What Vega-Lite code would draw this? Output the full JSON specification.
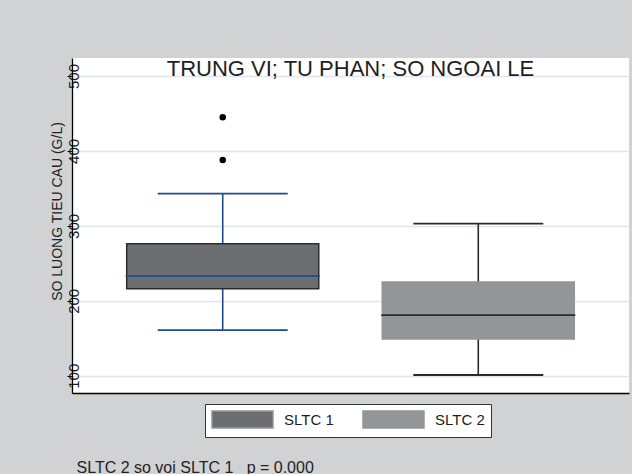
{
  "$schema": "https://vega.github.io/schema/vega-lite/v6.json",
  "width": 557,
  "height": 335,
  "autosize": "none",
  "padding": {"left": 72, "top": 58, "right": 3, "bottom": 81},
  "background": "#d1d2d4",
  "config": {"view": {"fill": "white", "stroke": null}, "font": "Liberation Sans"},
  "title": {"text": "TRUNG VI; TU PHAN; SO NGOAI LE", "fontSize": 22, "fontWeight": "normal", "color": "#1e1e1e", "anchor": "middle", "frame": "group", "baseline": "alphabetic", "offset": -19, "dy": 21},
  "datasets": {
    "boxes": [
      {"group": "SLTC 1", "lower": 161, "q1": 216, "median": 233, "q3": 276, "upper": 343},
      {"group": "SLTC 2", "lower": 101, "q1": 149, "median": 181, "q3": 225, "upper": 303}
    ],
    "outliers": [
      {"group": "SLTC 1", "value": 445},
      {"group": "SLTC 1", "value": 388}
    ]
  },
  "encoding": {
    "x": {
      "field": "group", "type": "nominal",
      "scale": {"domain": ["SLTC 1", "SLTC 2"], "paddingInner": 0.2485, "paddingOuter": 0.214},
      "axis": {"title": "SLTC 2 so voi SLTC 1\u00a0\u00a0\u00a0p = 0.000", "labels": false, "ticks": false, "domain": true, "domainColor": "#000000", "domainWidth": 1.5, "grid": false, "titleX": 4, "titleY": 79, "titleAlign": "left", "titleBaseline": "alphabetic", "titleFontSize": 16, "titleFontWeight": "normal", "titleColor": "#222222"}
    }
  },
  "layer": [
    {
      "data": {"name": "boxes"},
      "mark": {"type": "rule", "strokeWidth": 1.6},
      "encoding": {
        "y": {"field": "lower", "type": "quantitative", "title": "SO LUONG TIEU CAU (G/L)",
          "scale": {"domain": [77, 524], "nice": false, "zero": false},
          "axis": {"values": [100, 200, 300, 400, 500], "grid": true, "gridColor": "#dfe4ee", "gridWidth": 1.5, "domainColor": "#000000", "domainWidth": 1.3, "tickColor": "#000000", "tickSize": 5, "tickWidth": 1, "labelAngle": 270, "labelAlign": "center", "labelBaseline": "middle", "labelPadding": -6, "labelFontSize": 15, "labelColor": "#222222", "labelFlush": false, "labelOverlap": false, "titleFontSize": 14, "titleFontWeight": "normal", "titleColor": "#222222", "titleAngle": 270, "titleX": -15, "titleY": 153, "titleAlign": "center", "titleBaseline": "middle"}},
        "y2": {"field": "upper"},
        "color": {"condition": {"test": "datum.group === 'SLTC 1'", "value": "#1f4a8c"}, "value": "#2a2a2a"}
      }
    },
    {
      "data": {"name": "boxes"},
      "mark": {"type": "tick", "size": 130, "thickness": 1.8, "opacity": 1},
      "encoding": {
        "y": {"field": "upper", "type": "quantitative", "title": "SO LUONG TIEU CAU (G/L)"},
        "color": {"condition": {"test": "datum.group === 'SLTC 1'", "value": "#1f4a8c"}, "value": "#2a2a2a"}
      }
    },
    {
      "data": {"name": "boxes"},
      "mark": {"type": "tick", "size": 130, "thickness": 1.8, "opacity": 1},
      "encoding": {
        "y": {"field": "lower", "type": "quantitative", "title": "SO LUONG TIEU CAU (G/L)"},
        "color": {"condition": {"test": "datum.group === 'SLTC 1'", "value": "#1f4a8c"}, "value": "#2a2a2a"}
      }
    },
    {
      "data": {"name": "boxes"},
      "mark": {"type": "bar", "strokeWidth": 1.5, "opacity": 1},
      "encoding": {
        "y": {"field": "q1", "type": "quantitative", "title": "SO LUONG TIEU CAU (G/L)"},
        "y2": {"field": "q3"},
        "fill": {"field": "group", "type": "nominal",
          "scale": {"domain": ["SLTC 1", "SLTC 2"], "range": ["#6d6e71", "#939598"]},
          "legend": {"orient": "none", "legendX": 133, "legendY": 346, "direction": "horizontal", "title": null,
            "symbolType": "M-1,-1L6.176,-1L6.176,1L-1,1Z", "symbolSize": 289, "symbolStrokeWidth": 1.5,
            "labelFontSize": 15, "labelOffset": 54, "columnPadding": 26, "padding": 6,
            "fillColor": "white", "strokeColor": "#333333", "labelColor": "#1e1e1e", "symbolOpacity": 1,
            "encode": {"symbols": {"update": {"stroke": {"signal": "datum.value === 'SLTC 1' ? '#2b2b2b' : '#939598'"}, "strokeWidth": {"value": 1.5}}}}}},
        "stroke": {"condition": {"test": "datum.group === 'SLTC 1'", "value": "#2b2b2b"}, "value": "#939598"}
      }
    },
    {
      "data": {"name": "boxes"},
      "mark": {"type": "tick", "size": 194, "thickness": 1.8, "opacity": 1},
      "encoding": {
        "y": {"field": "median", "type": "quantitative", "title": "SO LUONG TIEU CAU (G/L)"},
        "color": {"condition": {"test": "datum.group === 'SLTC 1'", "value": "#1f4a8c"}, "value": "#2a2a2a"}
      }
    },
    {
      "data": {"name": "outliers"},
      "mark": {"type": "circle", "size": 42, "color": "#000000", "opacity": 1},
      "encoding": {
        "y": {"field": "value", "type": "quantitative", "title": "SO LUONG TIEU CAU (G/L)"}
      }
    }
  ]
}
